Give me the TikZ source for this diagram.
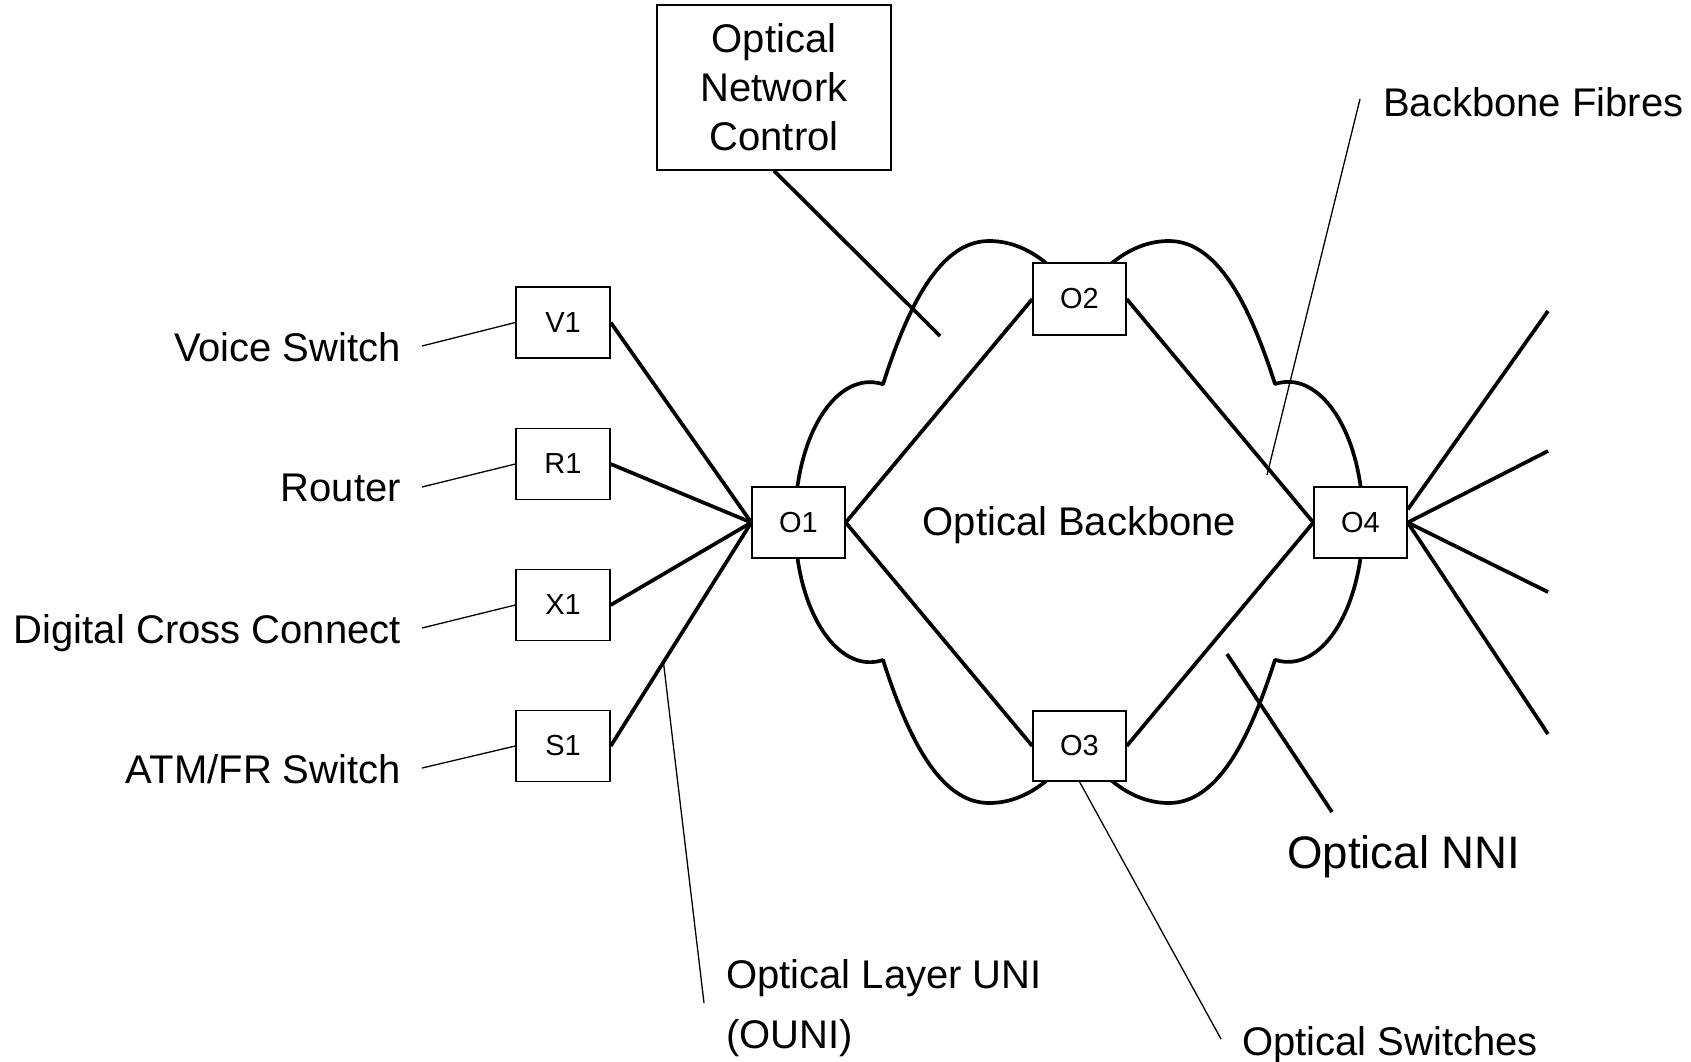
\documentclass[tikz,border=0pt]{standalone}
\usepackage{fontspec}
\setmainfont{Liberation Sans}
\usetikzlibrary{calc}
\begin{document}
\begin{tikzpicture}[x=1pt,y=-1pt,
  box/.style={draw, line width=1.4pt, fill=white, minimum width=93pt, minimum height=71pt, inner sep=0pt, font=\fontsize{29}{35}\selectfont},
  thickline/.style={line width=3.7pt},
  thinline/.style={line width=1.3pt},
  lbl/.style={inner sep=0pt, font=\fontsize{40}{48}\selectfont}]
\fill[white] (0,0) rectangle (1691,1061);
\useasboundingbox (0,0) rectangle (1691,1061);
% cloud
\draw[thickline, line join=round] (1079,300) .. controls (1103,265) and (1133,241) .. (1169,241)
 .. controls (1218,241) and (1250,306) .. (1275,384)
 arc[start angle=-100, end angle=100, x radius=75, y radius=140]
 .. controls (1250,738) and (1218,803) .. (1169,803)
 .. controls (1133,803) and (1103,779) .. (1079,744)
 .. controls (1055,779) and (1025,803) .. (989,803)
 .. controls (940,803) and (908,738) .. (883,660)
 arc[start angle=80, end angle=280, x radius=75, y radius=140]
 .. controls (908,306) and (940,241) .. (989,241)
 .. controls (1025,241) and (1055,265) .. (1079,300) -- cycle;
% boxes
\node[box, minimum width=94pt] (V1) at (563,322.5) {V1};
\node[box, minimum width=94pt] (R1) at (563,464) {R1};
\node[box, minimum width=94pt] (X1) at (563,605) {X1};
\node[box, minimum width=94pt] (S1) at (563,746) {S1};
\node[box] (O1) at (798.5,522.5) {O1};
\node[box, minimum height=72pt] (O2) at (1079.5,299) {O2};
\node[box, minimum height=70pt] (O3) at (1079.5,746) {O3};
\node[box] (O4) at (1360.5,522.5) {O4};
\node[draw, line width=1.4pt, fill=white, minimum width=234pt, minimum height=165pt, inner sep=0pt, align=center, font=\fontsize{40}{49}\selectfont] (onc) at (774,87.5) {Optical\\Network\\Control};
% labels
\node[lbl, anchor=base east] (lV) at (401,361) {Voice Switch};
\node[lbl, anchor=base east] (lR) at (401,501) {Router};
\node[lbl, anchor=base east] (lX) at (401,643) {Digital Cross Connect};
\node[lbl, anchor=base east] (lS) at (401,783) {ATM/FR Switch};
\node[lbl, anchor=base] (ob) at (1079.5,535) {Optical Backbone};
\node[lbl, anchor=base west] (bf) at (1383,116) {Backbone Fibres};
\node[inner sep=0pt, anchor=base west, font=\fontsize{45.6}{55}\selectfont] (nni) at (1287,868) {Optical NNI};
\node[lbl, anchor=base west] (sw) at (1242,1055) {Optical Switches};
\node[inner sep=0pt, anchor=north west, align=left, font=\fontsize{40}{60}\selectfont] (ouni) at (726,959) {Optical Layer UNI\\(OUNI)};
% free ends
\coordinate (cV) at (422,346);
\coordinate (cR) at (422,487);
\coordinate (cX) at (422,628);
\coordinate (cS) at (422,768);
\coordinate (oncend) at (940,336);
\coordinate (bfs) at (1360,99);
\coordinate (bfe) at (1267,475);
\coordinate (nnis) at (1227,654);
\coordinate (nnie) at (1332,812);
\coordinate (swe) at (1221,1039);
\coordinate (ounie) at (704,1003);
\coordinate (f1) at (1548,311);
\coordinate (f2) at (1548,451);
\coordinate (f3) at (1548,592);
\coordinate (f4) at (1548,734);
% thin leaders
\draw[thinline] (cV) -- (V1.west);
\draw[thinline] (cR) -- (R1.west);
\draw[thinline] (cX) -- (X1.west);
\draw[thinline] (cS) -- (S1.west);
\draw[thinline] (bfs) -- (bfe);
\draw[thinline] (O3.south) -- (swe);
\draw[thinline] ($(S1.east)!0.375!(O1.west)$) -- (ounie);
% thick connectors
\draw[thickline] (onc.south) -- (oncend);
\draw[thickline] (nnis) -- (nnie);
\draw[thickline] (V1.east) -- (O1.west);
\draw[thickline] (R1.east) -- (O1.west);
\draw[thickline] (X1.east) -- (O1.west);
\draw[thickline] (S1.east) -- (O1.west);
\draw[thickline] (O1.east) -- (O2.west);
\draw[thickline] (O1.east) -- (O3.west);
\draw[thickline] (O2.east) -- (O4.west);
\draw[thickline] (O3.east) -- (O4.west);
\draw[thickline] ([yshift=13pt]O4.east) -- (f1);
\draw[thickline] (O4.east) -- (f2);
\draw[thickline] (O4.east) -- (f3);
\draw[thickline] (O4.east) -- (f4);
\end{tikzpicture}
\end{document}
